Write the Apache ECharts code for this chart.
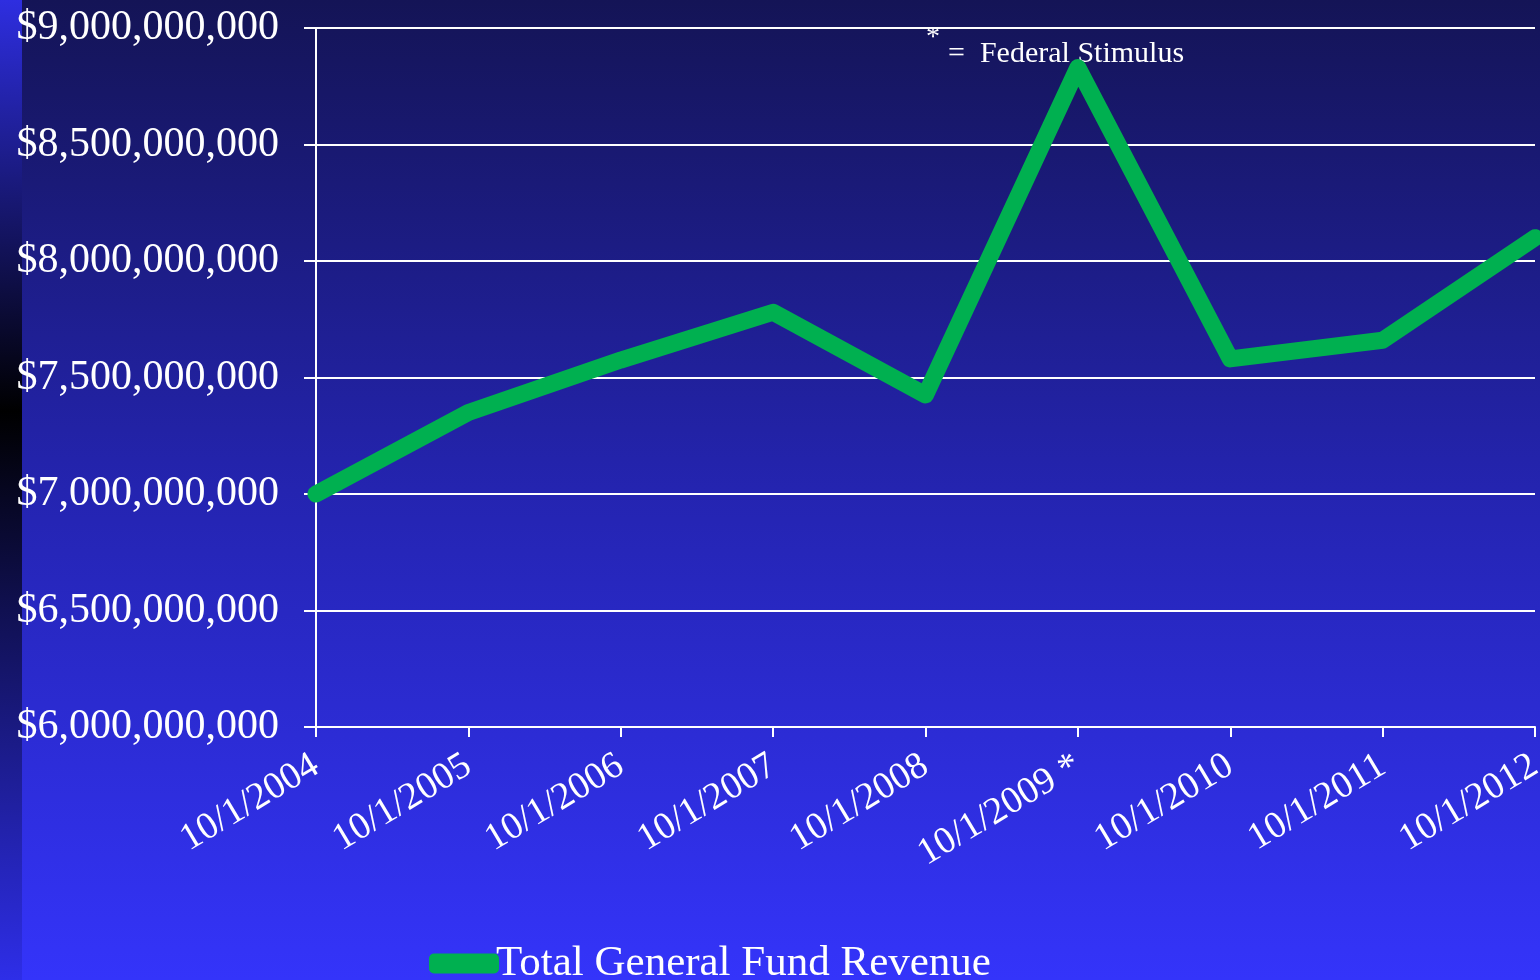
<!DOCTYPE html>
<html>
<head>
<meta charset="utf-8">
<script src="https://cdn.jsdelivr.net/npm/echarts@6/dist/echarts.min.js"></script>
<style>html,body{margin:0;padding:0;background:#222299;overflow:hidden}#c{width:1540px;height:980px}</style>
</head>
<body>
<div id="c"></div>
<script>
const categories = ['10/1/2004','10/1/2005','10/1/2006','10/1/2007','10/1/2008','10/1/2009 *','10/1/2010','10/1/2011','10/1/2012'];
const revenue = [7000000000, 7350000000, 7575000000, 7780000000, 7425000000, 8830000000, 7580000000, 7660000000, 8100000000];
const seriesName = 'Total General Fund Revenue';
const yMin = 6000000000, yMax = 9000000000, yStep = 500000000;

const serif = '"Liberation Serif","Times New Roman",serif';
const chart = echarts.init(document.getElementById('c'), null, {renderer:'canvas', width:1540, height:980});
function fmt(v){ return '$' + v.toString().replace(/\B(?=(\d{3})+(?!\d))/g, ','); }
chart.setOption({
  animation:false,
  graphic:[
    {type:'rect', z:-100, silent:true, shape:{x:0,y:0,width:1540,height:980},
     style:{fill:new echarts.graphic.LinearGradient(0,0,0,1,[{offset:0,color:'#141456'},{offset:0.5,color:'#2424b0'},{offset:1,color:'#3434fa'}])}},
    {type:'rect', z:-99, silent:true, shape:{x:0,y:0,width:22,height:980},
     style:{fill:new echarts.graphic.LinearGradient(0,0,0,1,[{offset:0,color:'#2e2ee0'},{offset:0.42,color:'#000000'},{offset:1,color:'#2e2ee8'}])}},
    {type:'text', left:926, top:24, style:{text:'*', fill:'#ffffff', font:'28px '+serif}},
    {type:'text', left:948, top:39, style:{text:'=  Federal Stimulus', fill:'#ffffff', font:'30px '+serif}}
  ],
  legend:{
    bottom:-10, left:424, itemWidth:70, itemHeight:20, itemGap:10,
    icon:'roundRect',
    textStyle:{color:'#ffffff', fontFamily:serif, fontSize:43, padding:[0,0,0,-8]},
    data:[seriesName]
  },
  grid:{left:316, right:5, top:28, bottom:253, containLabel:false, outerBoundsMode:'none'},
  xAxis:{
    type:'category', data:categories, boundaryGap:false,
    axisLine:{lineStyle:{color:'#ffffff', width:2}},
    axisTick:{show:true, length:10, lineStyle:{color:'#ffffff', width:2}},
    axisLabel:{color:'#ffffff', fontFamily:serif, fontSize:38, rotate:31, margin:36, interval:0}
  },
  yAxis:{
    type:'value', min:yMin, max:yMax, interval:yStep,
    axisLine:{show:true, lineStyle:{color:'#ffffff', width:2}},
    axisTick:{show:true, length:12, lineStyle:{color:'#ffffff', width:2}},
    axisLabel:{color:'#ffffff', fontFamily:serif, fontSize:42, margin:37, formatter:fmt},
    splitLine:{show:true, lineStyle:{color:'#ffffff', width:2}}
  },
  series:[{
    name:seriesName, type:'line', data:revenue, symbol:'none',
    lineStyle:{color:'#00b050', width:17, cap:'round', join:'round'},
    itemStyle:{color:'#00b050'}
  }]
});
</script>
</body>
</html>
